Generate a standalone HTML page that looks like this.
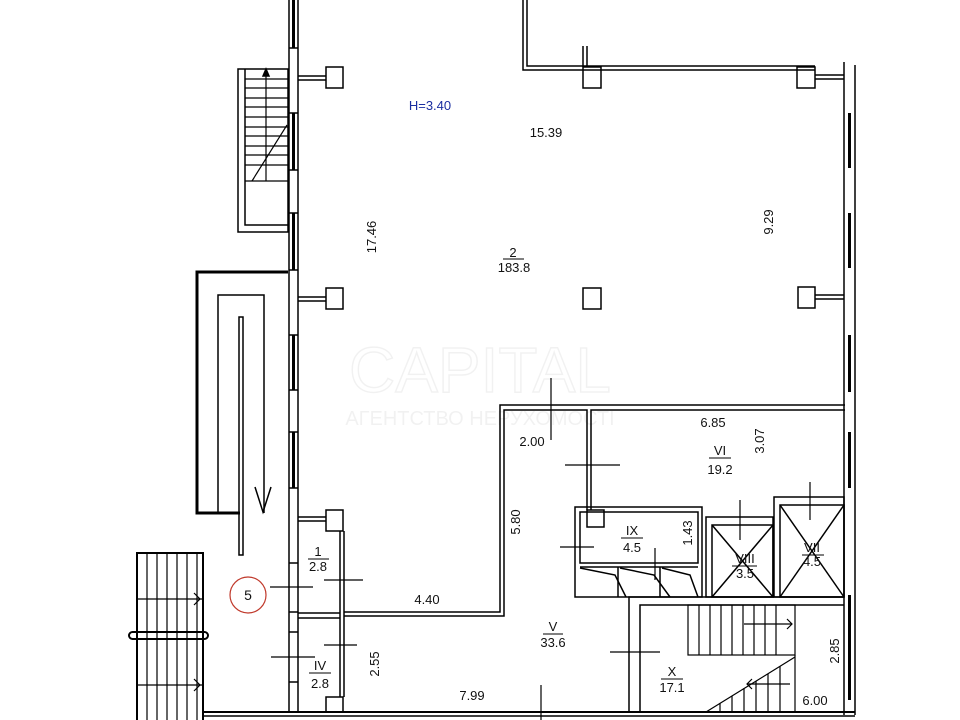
<!DOCTYPE html>
<html><head><meta charset="utf-8"><style>
html,body{margin:0;padding:0;background:#fff;}
svg{display:block;font-family:"Liberation Sans",sans-serif;}
text{font-size:13px;fill:#111;}
</style></head><body>
<svg width="960" height="720" viewBox="0 0 960 720" xmlns="http://www.w3.org/2000/svg">
<rect width="960" height="720" fill="#fff"/>
<g opacity="0.05" fill="none" stroke="#000" stroke-width="2">
<text x="480" y="392" text-anchor="middle" style="font-size:64px;fill:none;stroke:#000;stroke-width:1.5">CAPITAL</text>
<text x="480" y="425" text-anchor="middle" style="font-size:20px;fill:#000;stroke:none">АГЕНТСТВО НЕРУХОМОСТІ</text>
</g>
<g stroke="#000" fill="none" stroke-width="1.5">
<line x1="289" y1="0" x2="289" y2="712"/><line x1="298" y1="0" x2="298" y2="712"/>
<g stroke-width="3">
<line x1="293.5" y1="0" x2="293.5" y2="48"/><line x1="293.5" y1="113" x2="293.5" y2="170"/>
<line x1="293.5" y1="213" x2="293.5" y2="270"/><line x1="293.5" y1="335" x2="293.5" y2="390"/>
<line x1="293.5" y1="432" x2="293.5" y2="488"/>
</g>
<line x1="289" y1="48" x2="298" y2="48"/><line x1="289" y1="113" x2="298" y2="113"/>
<line x1="289" y1="170" x2="298" y2="170"/><line x1="289" y1="213" x2="298" y2="213"/>
<line x1="289" y1="270" x2="298" y2="270"/><line x1="289" y1="335" x2="298" y2="335"/>
<line x1="289" y1="390" x2="298" y2="390"/><line x1="289" y1="432" x2="298" y2="432"/>
<line x1="289" y1="488" x2="298" y2="488"/>
<line x1="289" y1="563" x2="298" y2="563"/><line x1="289" y1="612" x2="298" y2="612"/>
<line x1="289" y1="632" x2="298" y2="632"/><line x1="289" y1="682" x2="298" y2="682"/>
<rect x="238" y="69" width="50" height="163"/>
<polyline points="288,225 245,225 245,69"/>
<g stroke-width="1.2">
<line x1="245" y1="79" x2="288" y2="79"/><line x1="245" y1="88" x2="288" y2="88"/><line x1="245" y1="98" x2="288" y2="98"/>
<line x1="245" y1="107" x2="288" y2="107"/><line x1="245" y1="117" x2="288" y2="117"/><line x1="245" y1="127" x2="288" y2="127"/>
<line x1="245" y1="136" x2="288" y2="136"/><line x1="245" y1="146" x2="288" y2="146"/><line x1="245" y1="155" x2="288" y2="155"/>
<line x1="245" y1="165" x2="288" y2="165"/><line x1="245" y1="181" x2="288" y2="181"/>
<line x1="266" y1="75" x2="266" y2="181"/><line x1="252" y1="181" x2="287" y2="125"/>
</g>
<path d="M263,76 l3,-7 l3,7z" fill="#000"/>
<polyline points="523,0 523,70 815,70"/><polyline points="527,0 527,66 815,66"/>
<line x1="844" y1="62" x2="844" y2="715"/><line x1="855" y1="65" x2="855" y2="715"/>
<g stroke-width="3">
<line x1="849.5" y1="113" x2="849.5" y2="168"/><line x1="849.5" y1="213" x2="849.5" y2="268"/>
<line x1="849.5" y1="335" x2="849.5" y2="392"/><line x1="849.5" y1="432" x2="849.5" y2="488"/>
<line x1="849.5" y1="595" x2="849.5" y2="700"/>
</g>
<rect x="326" y="67" width="17" height="21"/><rect x="326" y="288" width="17" height="21"/>
<rect x="583" y="67" width="18" height="21"/><rect x="583" y="288" width="18" height="21"/>
<rect x="797" y="67" width="18" height="21"/><rect x="798" y="287" width="17" height="21"/>
<rect x="326" y="510" width="17" height="21"/><rect x="326" y="697" width="17" height="15"/>
<line x1="298" y1="76" x2="326" y2="76"/><line x1="298" y1="80" x2="326" y2="80"/>
<line x1="298" y1="297" x2="326" y2="297"/><line x1="298" y1="301" x2="326" y2="301"/>
<line x1="298" y1="517" x2="326" y2="517"/><line x1="298" y1="521" x2="326" y2="521"/>
<line x1="815" y1="75" x2="844" y2="75"/><line x1="815" y1="79" x2="844" y2="79"/>
<line x1="815" y1="295" x2="844" y2="295"/><line x1="815" y1="299" x2="844" y2="299"/>
<line x1="583" y1="46" x2="583" y2="67"/><line x1="587" y1="46" x2="587" y2="67"/>
<polyline points="288,272 197,272 197,513 240,513" stroke-width="3"/>
<polyline points="218,513 218,295 264,295 264,513"/>
<rect x="239" y="317" width="4" height="238"/>
<polyline points="255,487 263,512 271,487"/>
<polyline points="137,720 137,553 203,553 203,720" stroke-width="2"/>
<g stroke-width="1.2">
<line x1="147" y1="553" x2="147" y2="720"/><line x1="157" y1="553" x2="157" y2="720"/>
<line x1="167" y1="553" x2="167" y2="720"/><line x1="177" y1="553" x2="177" y2="720"/>
<line x1="187" y1="553" x2="187" y2="720"/><line x1="197" y1="553" x2="197" y2="720"/>
<line x1="137" y1="599" x2="203" y2="599"/><line x1="137" y1="685" x2="203" y2="685"/>
<polyline points="194,593 200,599 194,605"/><polyline points="194,679 200,685 194,691"/>
</g>
<rect x="129" y="632" width="79" height="7" rx="3.5" stroke-width="2"/>
<line x1="203" y1="712" x2="855" y2="712" stroke-width="2"/>
<line x1="203" y1="716" x2="855" y2="716"/>
<line x1="340" y1="531" x2="340" y2="697"/><line x1="344" y1="531" x2="344" y2="697"/>
<line x1="298" y1="613" x2="340" y2="613"/><line x1="298" y1="618" x2="340" y2="618"/>
<polyline points="344,612 500,612 500,405 845,405"/>
<polyline points="344,616 504,616 504,410 587,410 587,510"/>
<polyline points="591,510 591,410 845,410"/>
<rect x="575" y="507" width="127" height="90"/><rect x="580" y="512" width="118" height="51"/>
<line x1="580" y1="567" x2="698" y2="567"/>
<line x1="618" y1="567" x2="618" y2="597"/><line x1="660" y1="567" x2="660" y2="597"/>
<polyline points="580,568 615,575 626,597"/><polyline points="620,568 654,575 670,597"/><polyline points="662,568 690,575 698,597"/>
<rect x="587" y="510" width="17" height="17"/>
<rect x="706" y="517" width="67" height="80"/><rect x="712" y="525" width="61" height="72"/>
<line x1="712" y1="525" x2="773" y2="597"/><line x1="773" y1="525" x2="712" y2="597"/>
<rect x="774" y="497" width="70" height="100"/><rect x="780" y="505" width="64" height="92"/>
<line x1="780" y1="505" x2="844" y2="597"/><line x1="844" y1="505" x2="780" y2="597"/>
<polyline points="629,712 629,597 844,597"/><polyline points="640,712 640,605 844,605"/>
<g stroke-width="1.2">
<rect x="688" y="605" width="107" height="50"/>
<line x1="699" y1="605" x2="699" y2="655"/><line x1="710" y1="605" x2="710" y2="655"/><line x1="721" y1="605" x2="721" y2="655"/>
<line x1="732" y1="605" x2="732" y2="655"/><line x1="743" y1="605" x2="743" y2="655"/><line x1="754" y1="605" x2="754" y2="655"/>
<line x1="765" y1="605" x2="765" y2="655"/><line x1="776" y1="605" x2="776" y2="655"/>
<line x1="744" y1="624" x2="792" y2="624"/><polyline points="787,619 792,624 787,629"/>
<line x1="795" y1="655" x2="795" y2="712"/>
<line x1="706" y1="712" x2="795" y2="657"/>
<line x1="720" y1="703" x2="720" y2="712"/><line x1="732" y1="696" x2="732" y2="712"/><line x1="744" y1="688" x2="744" y2="712"/>
<line x1="756" y1="681" x2="756" y2="712"/><line x1="768" y1="674" x2="768" y2="712"/><line x1="780" y1="666" x2="780" y2="712"/>
<line x1="747" y1="684" x2="790" y2="684"/><polyline points="752,679 747,684 752,689"/>
</g>
<g stroke-width="1.2">
<line x1="551" y1="378" x2="551" y2="440"/><line x1="565" y1="465" x2="620" y2="465"/>
<line x1="560" y1="547" x2="594" y2="547"/><line x1="655" y1="548" x2="655" y2="580"/>
<line x1="740" y1="500" x2="740" y2="540"/><line x1="810" y1="482" x2="810" y2="520"/>
<line x1="610" y1="652" x2="660" y2="652"/><line x1="541" y1="685" x2="541" y2="720"/>
<line x1="270" y1="587" x2="313" y2="587"/><line x1="324" y1="580" x2="363" y2="580"/>
<line x1="271" y1="657" x2="315" y2="657"/><line x1="324" y1="645" x2="357" y2="645"/>
</g>
</g>
<circle cx="248" cy="595" r="18" fill="none" stroke="#c0392b" stroke-width="1.2"/>
<text x="248" y="600" text-anchor="middle" style="font-size:14px">5</text>
<text x="430" y="110" text-anchor="middle" style="fill:#1a2ea0">H=3.40</text>
<text x="546" y="137" text-anchor="middle">15.39</text>
<text transform="translate(376,237) rotate(-90)" text-anchor="middle">17.46</text>
<text transform="translate(773,222) rotate(-90)" text-anchor="middle">9.29</text>
<g text-anchor="middle">
<text x="513" y="257">2</text><line x1="503" y1="259" x2="524" y2="259" stroke="#000"/><text x="514" y="272">183.8</text>
<text x="713" y="427">6.85</text><text x="532" y="446">2.00</text>
<text x="720" y="455">VI</text><line x1="709" y1="458" x2="731" y2="458" stroke="#000"/><text x="720" y="474">19.2</text>
<text x="632" y="535">IX</text><line x1="621" y1="538" x2="643" y2="538" stroke="#000"/><text x="632" y="552">4.5</text>
<text x="745" y="563">VIII</text><line x1="732" y1="566" x2="757" y2="566" stroke="#000"/><text x="745" y="578">3.5</text>
<text x="812" y="552">VII</text><line x1="802" y1="555" x2="824" y2="555" stroke="#000"/><text x="812" y="566">4.5</text>
<text x="427" y="604">4.40</text>
<text x="553" y="631">V</text><line x1="543" y1="634" x2="563" y2="634" stroke="#000"/><text x="553" y="647">33.6</text>
<text x="672" y="676">X</text><line x1="661" y1="679" x2="683" y2="679" stroke="#000"/><text x="672" y="692">17.1</text>
<text x="472" y="700">7.99</text><text x="815" y="705">6.00</text>
<text x="318" y="556">1</text><line x1="308" y1="559" x2="329" y2="559" stroke="#000"/><text x="318" y="571">2.8</text>
<text x="320" y="670">IV</text><line x1="309" y1="673" x2="331" y2="673" stroke="#000"/><text x="320" y="688">2.8</text>
<text transform="translate(764,441) rotate(-90)">3.07</text>
<text transform="translate(520,522) rotate(-90)">5.80</text>
<text transform="translate(692,533) rotate(-90)">1.43</text>
<text transform="translate(379,664) rotate(-90)">2.55</text>
<text transform="translate(839,651) rotate(-90)">2.85</text>
</g>
</svg>
</body></html>
